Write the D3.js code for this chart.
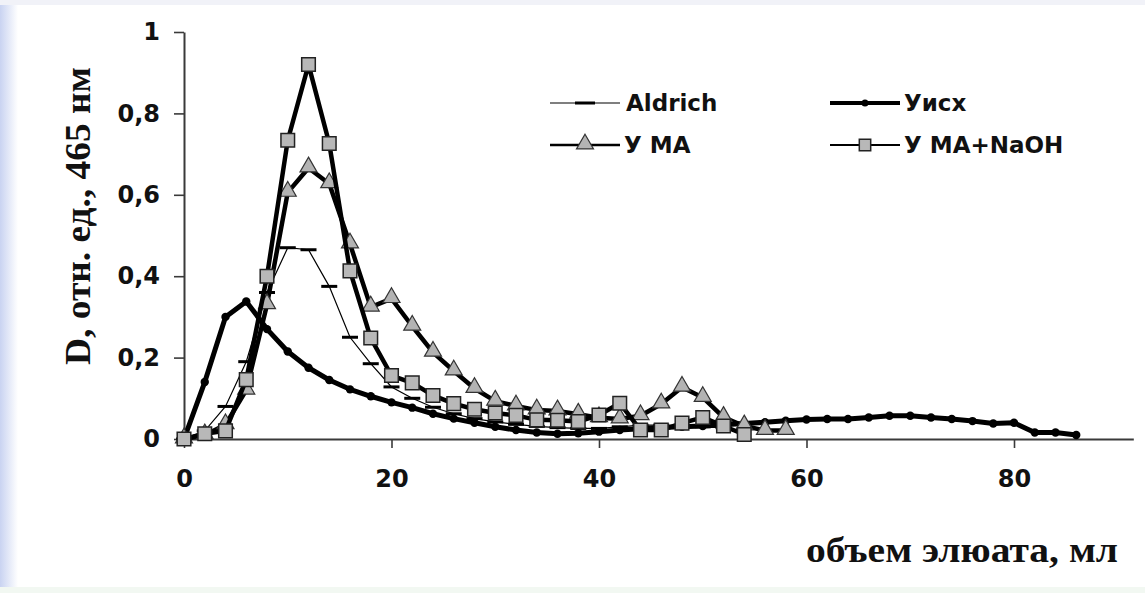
<!DOCTYPE html>
<html>
<head>
<meta charset="utf-8">
<script src="https://cdn.jsdelivr.net/npm/d3@7"></script>
<style>
    body { margin: 0; background: #fff; }
    svg { display: block; }
</style>
</head>
<body>
<div id="chart"></div>
<script>
// elution volumes, mL, and optical density at 465 nm
var aldrichX = [0, 2, 4, 6, 8, 10, 12, 14, 16, 18, 20, 22, 24, 26, 28, 30, 32, 34, 36, 38, 40, 42, 44, 46, 48, 50, 52];
var aldrichY = [0, 0.02, 0.08, 0.19, 0.36, 0.47, 0.465, 0.375, 0.25, 0.185, 0.128, 0.1, 0.078, 0.062, 0.05, 0.042, 0.036, 0.031, 0.028, 0.026, 0.026, 0.03, 0.034, 0.034, 0.032, 0.03, 0.028];

var uiskhX = [0, 2, 4, 6, 8, 10, 12, 14, 16, 18, 20, 22, 24, 26, 28, 30, 32, 34, 36, 38, 40, 42, 44, 46, 48, 50, 52, 54, 56, 58, 60, 62, 64, 66, 68, 70, 72, 74, 76, 78, 80, 82, 84, 86];
var uiskhY = [0, 0.14, 0.3, 0.338, 0.27, 0.215, 0.175, 0.145, 0.122, 0.105, 0.09, 0.077, 0.062, 0.05, 0.04, 0.03, 0.022, 0.016, 0.013, 0.014, 0.018, 0.022, 0.025, 0.028, 0.03, 0.032, 0.035, 0.038, 0.041, 0.045, 0.048, 0.049, 0.049, 0.053, 0.057, 0.057, 0.053, 0.049, 0.044, 0.038, 0.04, 0.016, 0.016, 0.01];

var umaX = [0, 2, 4, 6, 8, 10, 12, 14, 16, 18, 20, 22, 24, 26, 28, 30, 32, 34, 36, 38, 40, 42, 44, 46, 48, 50, 52, 54, 56, 58];
var umaY = [0, 0.01, 0.035, 0.12, 0.33, 0.606, 0.666, 0.627, 0.479, 0.324, 0.345, 0.277, 0.213, 0.167, 0.124, 0.093, 0.081, 0.071, 0.069, 0.061, 0.052, 0.049, 0.057, 0.086, 0.127, 0.102, 0.053, 0.032, 0.021, 0.021];

var naohX = [0, 2, 4, 6, 8, 10, 12, 14, 16, 18, 20, 22, 24, 26, 28, 30, 32, 34, 36, 38, 40, 42, 44, 46, 48, 50, 52, 54];
var naohY = [0, 0.013, 0.02, 0.146, 0.4, 0.734, 0.92, 0.726, 0.413, 0.248, 0.156, 0.138, 0.107, 0.087, 0.073, 0.064, 0.058, 0.047, 0.046, 0.043, 0.059, 0.088, 0.022, 0.022, 0.039, 0.053, 0.032, 0.011];

var xTicks = [0, 20, 40, 60, 80];
var yTicks = [0, 0.2, 0.4, 0.6, 0.8, 1];

var seriesNames = ["Aldrich", "Уисх", "У МА", "У МА+NaOH"];

(function() {
    var width = 1145,
        height = 593;

    var svg = d3.select("#chart")
        .append("svg")
        .attr("width", width)
        .attr("height", height)

    // soft frame of the slide
    var defs = svg.append("defs")
    var grad = defs.append("linearGradient").attr("id", "leftFade")
    grad.append("stop").attr("offset", "0%").attr("stop-color", "#c9d3f1")
    grad.append("stop").attr("offset", "100%").attr("stop-color", "#ffffff")
    svg.append("rect").attr("width", width).attr("height", height).attr("fill", "#fff")
    svg.append("rect").attr("width", 18).attr("height", height).attr("fill", "url(#leftFade)")
    svg.append("rect").attr("x", 0).attr("y", 0).attr("width", width).attr("height", 5).attr("fill", "#f1f2f8")
    svg.append("rect").attr("x", 0).attr("y", height - 6).attr("width", width).attr("height", 6).attr("fill", "#f2f8f2")

    var x = d3.scaleLinear().domain([0, 91.5]).range([184, 184 + 91.5 * 10.375])
    var y = d3.scaleLinear().domain([0, 1]).range([439, 32])

    var tickFont = "'DejaVu Sans', Verdana, sans-serif"
    var serif = "'Liberation Serif', 'Times New Roman', serif"

    // axes
    svg.append("g")
        .attr("transform", "translate(0," + y(0) + ")")
        .call(d3.axisBottom(x).tickValues(xTicks).tickSize(9).tickSizeOuter(0).tickPadding(22))
    svg.append("g")
        .attr("transform", "translate(" + x(0) + ",0)")
        .call(d3.axisLeft(y).tickValues(yTicks).tickSize(10).tickSizeOuter(0).tickPadding(14)
            .tickFormat(function(d) { return String(d).replace(".", ",") }))

    svg.selectAll(".domain").attr("stroke", "#3a3a3a").attr("stroke-width", 2)
    svg.selectAll(".tick line").attr("stroke", "#3a3a3a").attr("stroke-width", 1.6)
    svg.selectAll(".tick text")
        .attr("fill", "#111")
        .style("font-family", tickFont)
        .style("font-weight", "bold")
        .style("font-size", "24px")

    // axis titles
    svg.append("text")
        .attr("transform", "translate(90,216) rotate(-90)")
        .attr("text-anchor", "middle")
        .attr("textLength", 298)
        .attr("lengthAdjust", "spacingAndGlyphs")
        .style("font-family", serif)
        .style("font-weight", "bold")
        .style("font-size", "36px")
        .attr("fill", "#111")
        .text("D, отн. ед., 465 нм")

    svg.append("text")
        .attr("x", 806)
        .attr("y", 562)
        .attr("textLength", 312)
        .attr("lengthAdjust", "spacingAndGlyphs")
        .style("font-family", serif)
        .style("font-weight", "bold")
        .style("font-size", "36px")
        .attr("fill", "#111")
        .text("объем элюата, мл")

    var line = d3.line()
        .x(function(d) { return x(d[0]) })
        .y(function(d) { return y(d[1]) })

    var aldrich = d3.zip(aldrichX, aldrichY)
    var uiskh = d3.zip(uiskhX, uiskhY)
    var uma = d3.zip(umaX, umaY)
    var naoh = d3.zip(naohX, naohY)

    var plot = svg.append("g")

    // Aldrich: thin line, dash markers
    plot.append("path").datum(aldrich)
        .attr("d", line).attr("fill", "none").attr("stroke", "#000").attr("stroke-width", 1.2)
    plot.selectAll(".ald").data(aldrich).enter().append("line")
        .attr("class", "ald")
        .attr("x1", function(d) { return x(d[0]) - 8 })
        .attr("x2", function(d) { return x(d[0]) + 8 })
        .attr("y1", function(d) { return y(d[1]) })
        .attr("y2", function(d) { return y(d[1]) })
        .attr("stroke", "#000").attr("stroke-width", 3)

    // Уисх: heavy line with dots
    plot.append("path").datum(uiskh)
        .attr("d", line).attr("fill", "none").attr("stroke", "#000").attr("stroke-width", 5)
        .attr("stroke-linejoin", "round")
    plot.selectAll(".uis").data(uiskh).enter().append("circle")
        .attr("class", "uis")
        .attr("cx", function(d) { return x(d[0]) })
        .attr("cy", function(d) { return y(d[1]) })
        .attr("r", 4.2)
        .attr("fill", "#000")

    var tri = d3.symbol().type(d3.symbolTriangle).size(125)
    var sq = d3.symbol().type(d3.symbolSquare).size(185)

    // У МА: heavy line with grey triangles
    plot.append("path").datum(uma)
        .attr("d", line).attr("fill", "none").attr("stroke", "#000").attr("stroke-width", 4.5)
        .attr("stroke-linejoin", "round")
    plot.selectAll(".uma").data(uma).enter().append("path")
        .attr("class", "uma")
        .attr("d", tri)
        .attr("transform", function(d) { return "translate(" + x(d[0]) + "," + (y(d[1]) - 1) + ")" })
        .attr("fill", "#b3b3b3").attr("stroke", "#333").attr("stroke-width", 1.2)

    // У МА+NaOH: heavy line with grey squares
    plot.append("path").datum(naoh)
        .attr("d", line).attr("fill", "none").attr("stroke", "#000").attr("stroke-width", 4.5)
        .attr("stroke-linejoin", "round")
    plot.selectAll(".naoh").data(naoh).enter().append("path")
        .attr("class", "naoh")
        .attr("d", sq)
        .attr("transform", function(d) { return "translate(" + x(d[0]) + "," + y(d[1]) + ")" })
        .attr("fill", "#b8b8b8").attr("stroke", "#222").attr("stroke-width", 1.5)

    // legend
    var legendItems = [
        { name: seriesNames[0], lx: 550, ly: 103, w: 1.2, mark: "dash" },
        { name: seriesNames[1], lx: 830, ly: 103, w: 4, mark: "dot" },
        { name: seriesNames[2], lx: 550, ly: 145, w: 2.5, mark: "tri" },
        { name: seriesNames[3], lx: 830, ly: 145, w: 2, mark: "sq" }
    ]
    var legend = svg.selectAll(".legend").data(legendItems).enter().append("g")
        .attr("class", "legend")
        .attr("transform", function(d) { return "translate(" + d.lx + "," + d.ly + ")" })

    legend.append("line")
        .attr("x1", 0).attr("x2", 70)
        .attr("stroke", "#000")
        .attr("stroke-width", function(d) { return d.w })

    legend.each(function(d) {
        var g = d3.select(this)
        if (d.mark == "dash") {
            g.append("line").attr("x1", 25).attr("x2", 45).attr("stroke", "#000").attr("stroke-width", 3)
        } else if (d.mark == "dot") {
            g.append("circle").attr("cx", 35).attr("r", 3.5).attr("fill", "#000")
        } else if (d.mark == "tri") {
            g.append("path").attr("d", tri).attr("transform", "translate(35,-1)")
                .attr("fill", "#b3b3b3").attr("stroke", "#333").attr("stroke-width", 1.2)
        } else {
            g.append("path").attr("d", d3.symbol().type(d3.symbolSquare).size(130)).attr("transform", "translate(35,0)")
                .attr("fill", "#b8b8b8").attr("stroke", "#222").attr("stroke-width", 1.5)
        }
    })

    legend.append("text")
        .attr("x", function(d) { return d.mark == "dash" ? 76 : 74 })
        .attr("dy", "0.36em")
        .style("font-family", tickFont)
        .style("font-weight", "bold")
        .style("font-size", "23px")
        .attr("fill", "#111")
        .text(function(d) { return d.name })

})();
</script>
</body>
</html>
